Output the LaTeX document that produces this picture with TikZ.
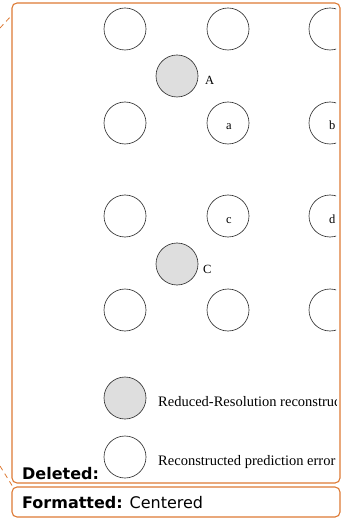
\documentclass[tikz,border=0pt]{standalone}
\usepackage{fontspec}
\setmainfont{Liberation Serif}
\newfontfamily\balloonfont{DejaVu Sans}
\definecolor{balloon}{RGB}{221,122,52}
\definecolor{shade}{RGB}{222,222,222}
\begin{document}
\begin{tikzpicture}[x=1pt,y=-1pt,
  circ/.style={circle,draw=black!80,line width=0.65pt,minimum size=42pt,inner sep=0pt},
  shadedcirc/.style={circ,fill=shade},
  lbl/.style={anchor=base west,inner sep=0pt,font=\fontsize{12.5}{14}\selectfont},
  legendtext/.style={anchor=base west,inner sep=0pt,font=\fontsize{14.5}{17}\selectfont},
  balloonbox/.style={draw=balloon,line width=1.1pt,rounded corners=5pt},
  balloonlink/.style={draw=balloon,line width=0.8pt,dash pattern=on 5pt off 4pt},
  balloonlabel/.style={anchor=base west,inner sep=0pt,font=\balloonfont\fontsize{16}{18}\selectfont}]
\useasboundingbox (0,0) rectangle (343,518);
% balloons
\draw[balloonbox] (12,3) rectangle (340,483);
\draw[balloonbox] (12,487) rectangle (340,517);
\coordinate (t0) at (0,28);
\coordinate (t1) at (12,15);
\draw[balloonlink] (t0) -- (t1);
\coordinate (b0) at (0,466);
\coordinate (b1) at (13,487);
\draw[balloonlink] (b0) -- (b1);
\begin{scope}
\clip (12,3) rectangle (336,483);
% grid of samples
\node[circ] (r1c1) at (125,29) {};
\node[circ] (r1c2) at (228,29) {};
\node[circ] (r1c3) at (330,29) {};
\node[shadedcirc] (A) at (177,76) {};
\node[circ] (r3c1) at (125,123) {};
\node[circ] (a) at (228,123) {};
\node[circ] (b) at (330,123) {};
\node[circ] (r4c1) at (125,216) {};
\node[circ] (c) at (228,216) {};
\node[circ] (d) at (330,216) {};
\node[shadedcirc] (C) at (177,264) {};
\node[circ] (r6c1) at (125,310) {};
\node[circ] (r6c2) at (228,310) {};
\node[circ] (r6c3) at (330,310) {};
% labels
\node[lbl] (Alab) at (205,85) {A};
\node[lbl] (Clab) at (203,273) {C};
\node[lbl] (alab) at (226,130) {a};
\node[lbl] (blab) at (329,130) {b};
\node[lbl] (clab) at (226,224) {c};
\node[lbl] (dlab) at (329,224) {d};
% legend
\node[shadedcirc] (leg1) at (125,398) {};
\node[circ] (leg2) at (125,457) {};
\node[legendtext] (leg1t) at (158,406) {Reduced-Resolution reconstruc};
\node[legendtext] (leg2t) at (158,465) {Reconstructed prediction error};
\end{scope}
\node[balloonlabel] (del) at (22,479) {\bfseries Deleted:};
\node[balloonlabel] (fmt) at (22,508) {\textbf{Formatted:} Centered};
\end{tikzpicture}
\end{document}
